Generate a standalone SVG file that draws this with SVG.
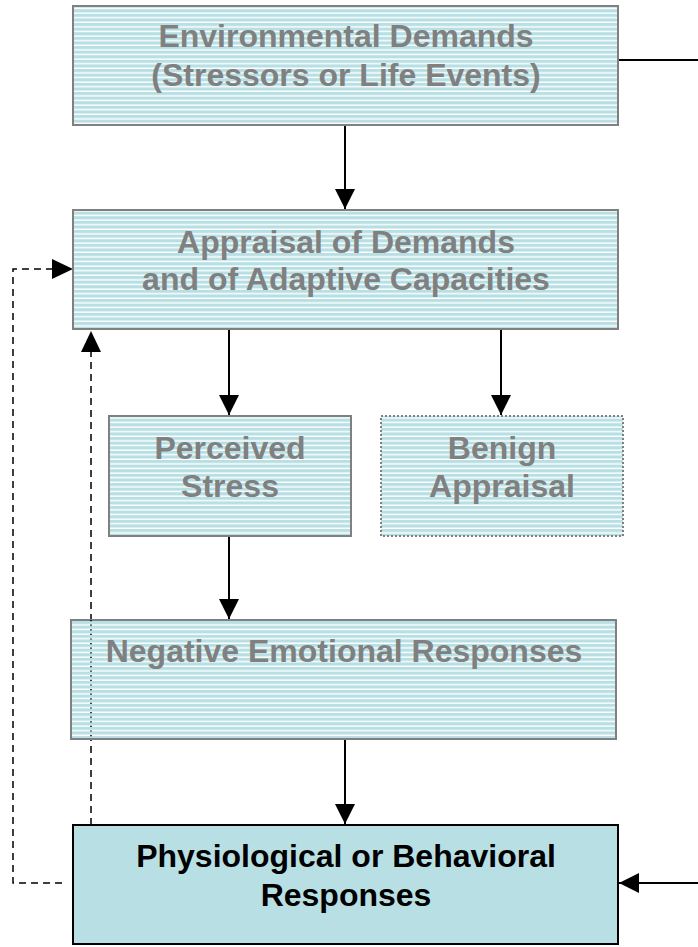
<svg xmlns="http://www.w3.org/2000/svg" width="698" height="947" viewBox="0 0 698 947">
<style>
.box{fill:url(#stripes);stroke:#808080;stroke-width:2}
.t{font-family:"Liberation Sans",Arial,sans-serif;font-weight:bold;font-size:32px;fill:#808080;text-anchor:middle}
.tb{fill:#000}
.ln{stroke:#000;stroke-width:2;fill:none}
.ds{stroke:#000;stroke-width:1.5;fill:none;stroke-dasharray:7,5}
</style>
<defs>
<pattern id="stripes" patternUnits="userSpaceOnUse" x="0" y="0" width="10" height="4.6">
<rect width="10" height="4.6" fill="#b8e0e4"/>
<rect y="3.2" width="10" height="1.4" fill="#ffffff"/>
</pattern>
<marker id="ahb" markerWidth="20" markerHeight="20" viewBox="0 0 20 20" refX="20" refY="10" orient="auto" markerUnits="userSpaceOnUse">
<path d="M0,0 L20,10 L0,20 z" fill="#000"/>
</marker>
</defs>
<rect width="698" height="947" fill="#fff"/>
<g id="connectors">
<line class="ln" x1="618" y1="60" x2="698" y2="60"/>
<line class="ln" x1="345" y1="125" x2="345" y2="209" marker-end="url(#ahb)"/>
<line class="ln" x1="229" y1="329" x2="229" y2="415" marker-end="url(#ahb)"/>
<line class="ln" x1="501" y1="329" x2="501" y2="415" marker-end="url(#ahb)"/>
<line class="ln" x1="229" y1="536" x2="229" y2="619" marker-end="url(#ahb)"/>
<line class="ln" x1="345" y1="739" x2="345" y2="824" marker-end="url(#ahb)"/>
<line class="ln" x1="698" y1="883" x2="619" y2="883" marker-end="url(#ahb)"/>
<path class="ds" d="M62,883 H13 V269 H52"/>
<path d="M52,259 L73,269 L52,279 z" fill="#000"/>
<line class="ds" x1="91" y1="825" x2="91" y2="352"/>
<path d="M81,352 L91,331 L101,352 z" fill="#000"/>
</g>
<g id="env">
<rect class="box" x="73" y="6" width="545" height="119"/>
<text class="t" x="346" y="47">Environmental Demands</text>
<text class="t" x="346" y="86">(Stressors or Life Events)</text>
</g>
<g id="appraisal">
<rect class="box" x="73" y="210" width="545" height="119"/>
<text class="t" x="346" y="253">Appraisal of Demands</text>
<text class="t" x="346" y="290">and of Adaptive Capacities</text>
</g>
<g id="perceived">
<rect class="box" x="109" y="416" width="242" height="120"/>
<text class="t" x="230" y="459">Perceived</text>
<text class="t" x="230" y="497">Stress</text>
</g>
<g id="benign">
<rect class="box" x="381" y="416" width="242" height="120" stroke-dasharray="2,2"/>
<text class="t" x="502" y="459">Benign</text>
<text class="t" x="502" y="497">Appraisal</text>
</g>
<g id="negative">
<rect class="box" x="71" y="620" width="545" height="119"/>
<text class="t" x="344" y="662">Negative Emotional Responses</text>
<line x1="91" y1="620" x2="91" y2="739" stroke="#000" stroke-width="1.5" stroke-dasharray="1.2,3.4"/>
</g>
<g id="physio">
<rect x="73" y="825" width="545" height="119" fill="#b8e0e4" stroke="#000" stroke-width="2"/>
<text class="t tb" x="346" y="867">Physiological or Behavioral</text>
<text class="t tb" x="346" y="906">Responses</text>
</g>
</svg>
